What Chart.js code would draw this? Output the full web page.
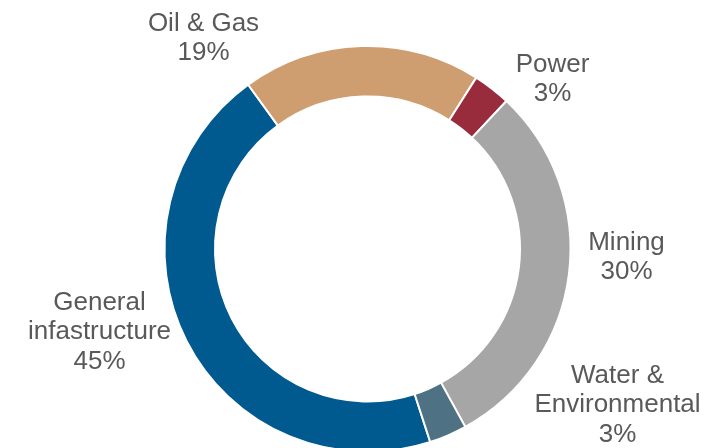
<!DOCTYPE html>
<html>
<head>
<meta charset="utf-8">
<script src="https://cdn.jsdelivr.net/npm/chart.js@4/dist/chart.umd.min.js"></script>
<style>
  html, body { margin: 0; padding: 0; background: #ffffff; }
  #wrap { width: 715px; height: 448px; overflow: hidden; position: relative; }
  canvas { display: block; }
</style>
</head>
<body>
<div id="wrap"><canvas id="c" width="715" height="500"></canvas></div>
<script>
// Sector split of the portfolio (percent)
const sectors = ['General infastructure', 'Oil & Gas', 'Power', 'Mining', 'Water & Environmental'];
const shares = [45, 19, 3, 30, 3];
const sectorColors = ['#00598F', '#CF9E70', '#982C3C', '#A6A6A6', '#4F7184'];

// Label text lines for each sector (name lines, then the share)
const labelLines = [
  ['General', 'infastructure'],
  ['Oil & Gas'],
  ['Power'],
  ['Mining'],
  ['Water &', 'Environmental']
];
// Label block placement, as offsets from the ring centre
const labelOffsets = [
  [-268, 81], [-164, -213], [185, -172], [259, 6], [250, 154]
];

const LABEL_FONT = 26;
const LINE_GAP = 29.5;

const outsideLabels = {
  id: 'outsideLabels',
  afterDatasetsDraw(chart) {
    const ctx = chart.ctx;
    const meta = chart.getDatasetMeta(0);
    const arc0 = meta.data[0];
    const cx = arc0.x, cy = arc0.y;
    ctx.save();
    ctx.font = LABEL_FONT + 'px "Liberation Sans", Arial, sans-serif';
    ctx.fillStyle = '#595959';
    ctx.textAlign = 'center';
    ctx.textBaseline = 'alphabetic';
    const capHalf = LABEL_FONT * 0.716 / 2;
    shares.forEach((v, i) => {
      const lines = labelLines[i].concat([v + '%']);
      const bx = cx + labelOffsets[i][0];
      const by = cy + labelOffsets[i][1];
      const top = by - (lines.length - 1) * LINE_GAP / 2;
      lines.forEach((t, k) => {
        ctx.fillText(t, bx, top + k * LINE_GAP + capHalf);
      });
    });
    ctx.restore();
  }
};

new Chart(document.getElementById('c'), {
  type: 'doughnut',
  data: {
    labels: sectors,
    datasets: [{
      data: shares,
      backgroundColor: sectorColors,
      borderColor: '#ffffff',
      borderWidth: 2,
      hoverOffset: 0
    }]
  },
  options: {
    responsive: false,
    animation: false,
    rotation: 162,
    radius: 203,
    cutout: 151,
    layout: { padding: { left: 165.5, right: 145.5, top: 47, bottom: 49 } },
    plugins: {
      legend: { display: false },
      tooltip: { enabled: false }
    }
  },
  plugins: [outsideLabels]
});
</script>
</body>
</html>
